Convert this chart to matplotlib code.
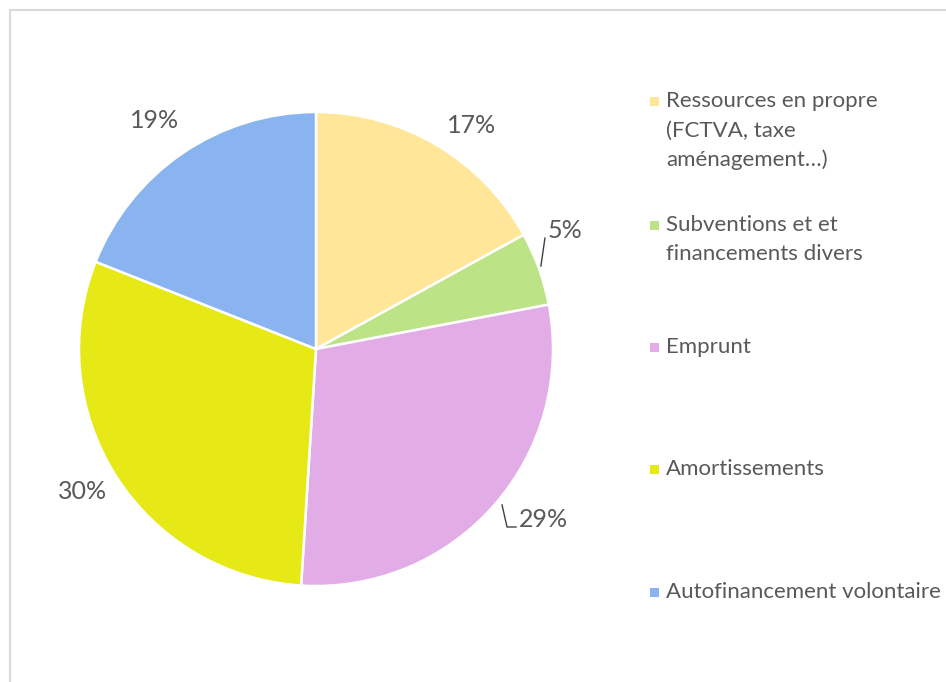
import matplotlib
matplotlib.use("Agg")
import matplotlib.pyplot as plt
from matplotlib.patches import Rectangle
import numpy as np

categories = ["Ressources en propre\n(FCTVA, taxe\naménagement…)",
              "Subventions et et\nfinancements divers",
              "Emprunt",
              "Amortissements",
              "Autofinancement volontaire"]
values = [17, 5, 29, 30, 19]
pct_labels = ["17%", "5%", "29%", "30%", "19%"]
colors = ["#FFE699", "#BCE386", "#E2ADE6", "#E6E916", "#8AB4F0"]

W, H = 946, 682
fig = plt.figure(figsize=(W / 100, H / 100), dpi=100)
FONT = "Lato"
TXT = "#595959"

# chart border
fig.patches.append(Rectangle((10 / W, -0.01), 1.0, 1 - 10 / H + 0.01, transform=fig.transFigure,
                             fill=False, edgecolor="#D9D9D9", linewidth=1.5))

cx, cy, r = 316, 349, 237
ax = fig.add_axes([(cx - r) / W, (H - cy - r) / H, 2 * r / W, 2 * r / H])
wedges, _ = ax.pie(values, colors=colors, startangle=90, counterclock=False,
                   wedgeprops=dict(edgecolor="white", linewidth=1.8), radius=1.0)
ax.set_xlim(-1, 1)
ax.set_ylim(-1, 1)
ax.set_aspect("equal")
ax.axis("off")

# label offsets (angle shift in degrees, radius) relative to wedge mid-angle
label_style = [(-4.3, 1.15), (5.7, 1.165), (4.6, 1.2), (-1.1, 1.155), (1.0, 1.18)]
for w, lab, (dang, rad) in zip(wedges, pct_labels, label_style):
    mid = np.deg2rad((w.theta1 + w.theta2) / 2 + dang)
    ax.text(rad * np.cos(mid), rad * np.sin(mid), lab, ha="center", va="center",
            fontsize=18, color=TXT, family=FONT, clip_on=False)

# leader lines
ax.plot([0.949, 0.966], [0.350, 0.468], color="#404040", lw=1.0, clip_on=False)
ax.plot([0.785, 0.806, 0.844], [-0.658, -0.751, -0.751], color="#404040", lw=1.0, clip_on=False)

# legend
leg_y = [101, 225, 347, 469, 592]
for lab, col, y in zip(categories, colors, leg_y):
    fig.patches.append(Rectangle(((650) / W, (H - y - 4.5) / H), 9 / W, 9 / H,
                                 transform=fig.transFigure, facecolor=col, edgecolor="none"))
    fig.text(666 / W, (H - y) / H, lab.split("\n")[0], ha="left", va="center", fontsize=16,
             color=TXT, family=FONT, transform=fig.transFigure)
    for k, line in enumerate(lab.split("\n")[1:], start=1):
        fig.text(666 / W, (H - y - 29.5 * k) / H, line, ha="left", va="center", fontsize=16,
                 color=TXT, family=FONT, transform=fig.transFigure)

fig.savefig("out.png", dpi=100)
